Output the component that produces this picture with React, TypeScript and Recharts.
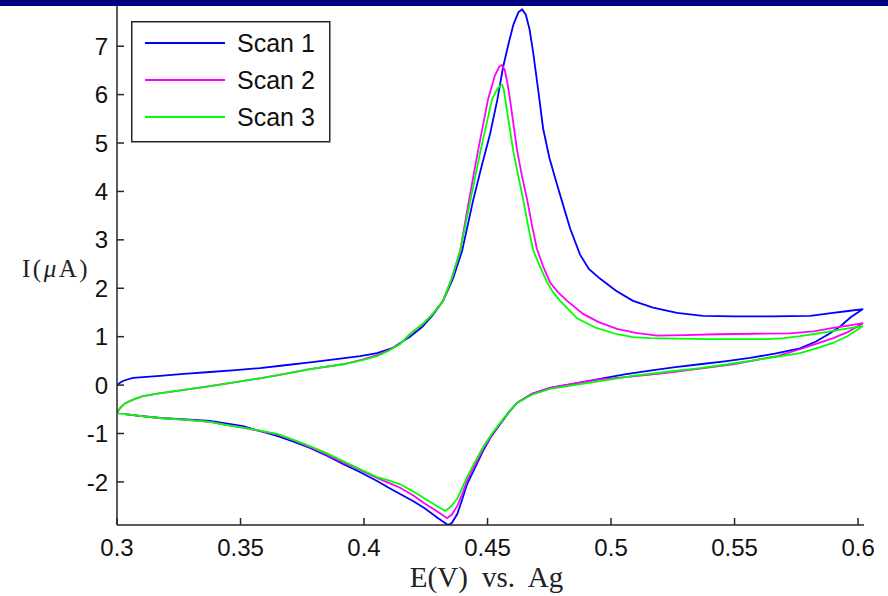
import React from 'react';
import { LineChart, Line, XAxis, YAxis, Legend, Label } from 'recharts';

const xTicks = [0.3, 0.35, 0.4, 0.45, 0.5, 0.55, 0.6];
const yTicks = [-2, -1, 0, 1, 2, 3, 4, 5, 6, 7];
const seriesNames = ['Scan 1', 'Scan 2', 'Scan 3'];

// Scan 1: forward sweep then reverse sweep
const scan1E = [0.3, 0.3015, 0.3032, 0.3065, 0.312, 0.3174, 0.327, 0.3377, 0.348, 0.3579, 0.368, 0.3781, 0.388, 0.3984, 0.4053, 0.4117, 0.4186, 0.4235, 0.4279, 0.432, 0.436, 0.4397, 0.4441, 0.4475, 0.451, 0.454, 0.4563, 0.4585, 0.4605, 0.4625, 0.464, 0.4655, 0.467, 0.4684, 0.4705, 0.4725, 0.475, 0.4781, 0.481, 0.4834, 0.4874, 0.491, 0.4955, 0.502, 0.5089, 0.517, 0.5267, 0.5372, 0.55, 0.565, 0.5806, 0.5899, 0.596, 0.602,
  0.597, 0.593, 0.588, 0.583, 0.5765, 0.5663, 0.5563, 0.546, 0.536, 0.526, 0.5158, 0.5055, 0.4955, 0.485, 0.4753, 0.468, 0.4619, 0.4585, 0.4551, 0.4515, 0.4482, 0.445, 0.4417, 0.4395, 0.4377, 0.4355, 0.434, 0.43, 0.4247, 0.42, 0.4146, 0.41, 0.4053, 0.3985, 0.3915, 0.385, 0.3781, 0.3715, 0.3648, 0.358, 0.351, 0.344, 0.3377, 0.328, 0.3174, 0.31, 0.3032];
const scan1I = [0.0, 0.06, 0.1, 0.15, 0.17, 0.19, 0.23, 0.27, 0.31, 0.35, 0.41, 0.47, 0.53, 0.6, 0.66, 0.77, 1.0, 1.2, 1.45, 1.74, 2.2, 2.77, 3.8, 4.5, 5.18, 5.9, 6.57, 7.05, 7.45, 7.7, 7.76, 7.65, 7.35, 6.9, 6.1, 5.3, 4.7, 4.15, 3.65, 3.24, 2.7, 2.4, 2.2, 1.95, 1.74, 1.6, 1.49, 1.43, 1.42, 1.42, 1.43, 1.49, 1.53, 1.57,
  1.4, 1.22, 1.05, 0.9, 0.76, 0.65, 0.56, 0.49, 0.43, 0.37, 0.3, 0.22, 0.13, 0.03, -0.06, -0.18, -0.37, -0.57, -0.81, -1.06, -1.36, -1.7, -2.05, -2.4, -2.67, -2.85, -2.89, -2.75, -2.55, -2.4, -2.25, -2.12, -1.98, -1.8, -1.63, -1.46, -1.3, -1.17, -1.05, -0.95, -0.85, -0.79, -0.74, -0.71, -0.68, -0.64, -0.6];

// Scan 2
const scan2E = [0.3, 0.3012, 0.3032, 0.3065, 0.3105, 0.317, 0.3243, 0.3377, 0.348, 0.3579, 0.368, 0.3781, 0.3915, 0.399, 0.4053, 0.41, 0.4146, 0.4186, 0.4235, 0.4279, 0.432, 0.4355, 0.4389, 0.4421, 0.446, 0.4502, 0.453, 0.4548, 0.4559, 0.457, 0.458, 0.4591, 0.4619, 0.464, 0.466, 0.468, 0.47, 0.4725, 0.4753, 0.4785, 0.4822, 0.4887, 0.495, 0.5024, 0.51, 0.5186, 0.53, 0.5429, 0.558, 0.5725, 0.582, 0.5899, 0.596, 0.602,
  0.596, 0.5899, 0.583, 0.5765, 0.5672, 0.558, 0.5494, 0.536, 0.5227, 0.509, 0.4955, 0.485, 0.4753, 0.468, 0.4619, 0.4585, 0.4551, 0.4515, 0.4482, 0.445, 0.4417, 0.4395, 0.4377, 0.4355, 0.4336, 0.43, 0.4247, 0.42, 0.4146, 0.41, 0.4053, 0.3985, 0.3915, 0.385, 0.3781, 0.3715, 0.3648, 0.358, 0.351, 0.344, 0.3377, 0.328, 0.3174, 0.31, 0.3032];
const scan2I = [-0.58, -0.48, -0.38, -0.3, -0.23, -0.17, -0.12, -0.02, 0.06, 0.14, 0.23, 0.33, 0.43, 0.52, 0.62, 0.72, 0.85, 1.05, 1.25, 1.47, 1.74, 2.2, 2.77, 3.7, 4.8, 5.9, 6.4, 6.58, 6.61, 6.5, 6.25, 5.9, 4.87, 4.3, 3.84, 3.3, 2.81, 2.45, 2.12, 1.92, 1.74, 1.47, 1.3, 1.16, 1.08, 1.02, 1.03, 1.05, 1.06, 1.07, 1.11, 1.18, 1.23, 1.28,
  1.1, 0.97, 0.85, 0.74, 0.6, 0.51, 0.43, 0.34, 0.25, 0.18, 0.12, 0.03, -0.06, -0.18, -0.37, -0.56, -0.8, -1.04, -1.32, -1.64, -1.98, -2.28, -2.5, -2.68, -2.75, -2.62, -2.45, -2.28, -2.12, -2.02, -1.92, -1.76, -1.6, -1.44, -1.28, -1.14, -1.02, -0.95, -0.88, -0.82, -0.76, -0.72, -0.68, -0.64, -0.6];

// Scan 3
const scan3E = [0.3, 0.3012, 0.3032, 0.3065, 0.3105, 0.317, 0.3243, 0.3377, 0.348, 0.3579, 0.368, 0.3781, 0.3915, 0.399, 0.4053, 0.41, 0.4146, 0.4186, 0.4235, 0.4279, 0.432, 0.4355, 0.4389, 0.443, 0.447, 0.4518, 0.454, 0.4552, 0.4559, 0.4566, 0.4579, 0.4603, 0.4624, 0.4644, 0.4664, 0.4684, 0.4712, 0.4741, 0.4765, 0.4794, 0.4862, 0.494, 0.5024, 0.5089, 0.5158, 0.528, 0.5401, 0.552, 0.5632, 0.57, 0.5765, 0.583, 0.5899, 0.596, 0.602,
  0.596, 0.5899, 0.583, 0.5765, 0.5663, 0.5563, 0.546, 0.536, 0.522, 0.5089, 0.4955, 0.485, 0.4753, 0.468, 0.4619, 0.4585, 0.4551, 0.4515, 0.4482, 0.445, 0.4417, 0.4395, 0.4377, 0.435, 0.4328, 0.429, 0.4247, 0.42, 0.4146, 0.41, 0.4053, 0.3985, 0.3915, 0.385, 0.3781, 0.3715, 0.3648, 0.358, 0.351, 0.344, 0.3377, 0.328, 0.3174, 0.31, 0.3032, 0.3005];
const scan3I = [-0.56, -0.47, -0.38, -0.3, -0.23, -0.17, -0.12, -0.02, 0.06, 0.14, 0.23, 0.33, 0.43, 0.51, 0.6, 0.71, 0.85, 1.05, 1.25, 1.47, 1.74, 2.2, 2.77, 3.8, 4.8, 5.9, 6.12, 6.19, 6.2, 6.1, 5.66, 4.87, 4.33, 3.84, 3.3, 2.8, 2.45, 2.12, 1.92, 1.74, 1.38, 1.18, 1.05, 0.99, 0.97, 0.96, 0.95, 0.95, 0.95, 0.97, 1.01, 1.06, 1.12, 1.17, 1.22,
  1.02, 0.87, 0.76, 0.66, 0.58, 0.5, 0.42, 0.35, 0.27, 0.19, 0.08, 0.0, -0.08, -0.2, -0.37, -0.56, -0.78, -1.02, -1.28, -1.58, -1.9, -2.15, -2.35, -2.52, -2.6, -2.48, -2.35, -2.2, -2.05, -1.97, -1.9, -1.74, -1.57, -1.41, -1.26, -1.13, -1.01, -0.94, -0.88, -0.82, -0.76, -0.72, -0.68, -0.64, -0.6, -0.59];

const zip = (xs: number[], ys: number[]) => xs.map((x, i) => ({ x, y: ys[i] }));
const data1 = zip(scan1E, scan1I);
const data2 = zip(scan2E, scan2I);
const data3 = zip(scan3E, scan3I);

const colors = ['#0000ff', '#ff00ff', '#00ff00'];
const AXIS = '#262626';
const TICK_FONT = '"Liberation Sans", Arial, sans-serif';
const SERIF = '"Liberation Serif", "Times New Roman", serif';

const BottomTick = (props: any) => {
  const { x, y, payload } = props;
  return (
    <g>
      <line x1={x} y1={y} x2={x} y2={y - 7} stroke={AXIS} strokeWidth={1.5} />
      <text x={x} y={y + 14} dy="0.72em" textAnchor="middle" fontFamily={TICK_FONT} fontSize={24} fill="#111">
        {String(payload.value)}
      </text>
    </g>
  );
};
const TopTick = (props: any) => {
  const { x, y } = props;
  return <line x1={x} y1={y} x2={x} y2={y + 7} stroke={AXIS} strokeWidth={1.5} />;
};
const LeftTick = (props: any) => {
  const { x, y, payload } = props;
  return (
    <g>
      <line x1={x} y1={y} x2={x + 7} y2={y} stroke={AXIS} strokeWidth={1.5} />
      <text x={x - 9} y={y} dy="0.36em" textAnchor="end" fontFamily={TICK_FONT} fontSize={24} fill="#111">
        {String(payload.value)}
      </text>
    </g>
  );
};
const RightTick = (props: any) => {
  const { x, y } = props;
  return <line x1={x} y1={y} x2={x - 7} y2={y} stroke={AXIS} strokeWidth={1.5} />;
};

const YLabel = (props: any) => {
  const vb = props.viewBox;
  return (
    <text x={vb.x + 22} y={vb.y + vb.height / 2 + 11} fontFamily={SERIF} fontSize={25} fill="#222" letterSpacing={2.5}>
      <tspan>I(</tspan>
      <tspan fontStyle="italic">μ</tspan>
      <tspan>A)</tspan>
    </text>
  );
};
const XLabel = (props: any) => {
  const vb = props.viewBox;
  return (
    <text x={vb.x + vb.width / 2 - 4} y={vb.y + 62} textAnchor="middle" fontFamily={SERIF} fontSize={29} fill="#222" wordSpacing={7}>
      E(V) vs. Ag
    </text>
  );
};

const LegendBox = () => (
  <svg width={200} height={122} style={{ display: 'block' }}>
    <rect x={0.75} y={0.75} width={198} height={120} fill="#fff" stroke={AXIS} strokeWidth={1.5} />
    {seriesNames.map((n, i) => (
      <g key={n}>
        <line x1={14} x2={94} y1={22 + i * 37} y2={22 + i * 37} stroke={colors[i]} strokeWidth={2} />
        <text x={106} y={22 + i * 37} dy="0.36em" fontFamily={TICK_FONT} fontSize={25} fill="#111">{n}</text>
      </g>
    ))}
  </svg>
);

export default function App() {
  return (
    <div style={{ position: 'absolute', left: 0, top: 0, width: 888, height: 596, background: '#fff', overflow: 'hidden' }}>
      <LineChart width={888} height={596} margin={{ top: 6, right: 24, bottom: 0, left: 0 }}>
        <XAxis xAxisId="b" dataKey="x" type="number" domain={[0.3, 0.6024]} ticks={xTicks} allowDataOverflow interval={0}
          height={71} tickSize={0} tickMargin={0} tickLine={false} axisLine={{ stroke: AXIS, strokeWidth: 1.5 }} tick={<BottomTick />}>
          <Label content={<XLabel />} />
        </XAxis>
        <XAxis xAxisId="t" orientation="top" dataKey="x" type="number" domain={[0.3, 0.6024]} ticks={xTicks} allowDataOverflow interval={0}
          height={0} tickSize={0} tickMargin={0} tickLine={false} axisLine={{ stroke: AXIS, strokeWidth: 1.5 }} tick={<TopTick />} />
        <YAxis yAxisId="l" type="number" domain={[-2.89, 7.83]} ticks={yTicks} allowDataOverflow interval={0}
          width={117} tickSize={0} tickMargin={0} tickLine={false} axisLine={{ stroke: AXIS, strokeWidth: 1.5 }} tick={<LeftTick />}>
          <Label content={<YLabel />} />
        </YAxis>
        <YAxis yAxisId="r" orientation="right" type="number" domain={[-2.89, 7.83]} ticks={yTicks} allowDataOverflow interval={0}
          width={0} tickSize={0} tickMargin={0} tickLine={false} axisLine={{ stroke: AXIS, strokeWidth: 1.5 }} tick={<RightTick />} />
        <Line xAxisId="b" yAxisId="l" data={data1} dataKey="y" name={seriesNames[0]} type="linear" stroke={colors[0]} strokeWidth={1.8} dot={false} isAnimationActive={false} />
        <Line xAxisId="b" yAxisId="l" data={data2} dataKey="y" name={seriesNames[1]} type="linear" stroke={colors[1]} strokeWidth={1.8} dot={false} isAnimationActive={false} />
        <Line xAxisId="b" yAxisId="l" data={data3} dataKey="y" name={seriesNames[2]} type="linear" stroke={colors[2]} strokeWidth={1.8} dot={false} isAnimationActive={false} />
        <Legend content={<LegendBox />} layout="horizontal" verticalAlign="middle" align="center"
          wrapperStyle={{ position: 'absolute', left: 131, top: 21, width: 200, height: 122, bottom: 'auto', right: 'auto' }} />
      </LineChart>
      <div style={{ position: 'absolute', left: 0, top: 0, width: 888, height: 6, background: '#00007e' }} />
    </div>
  );
}
